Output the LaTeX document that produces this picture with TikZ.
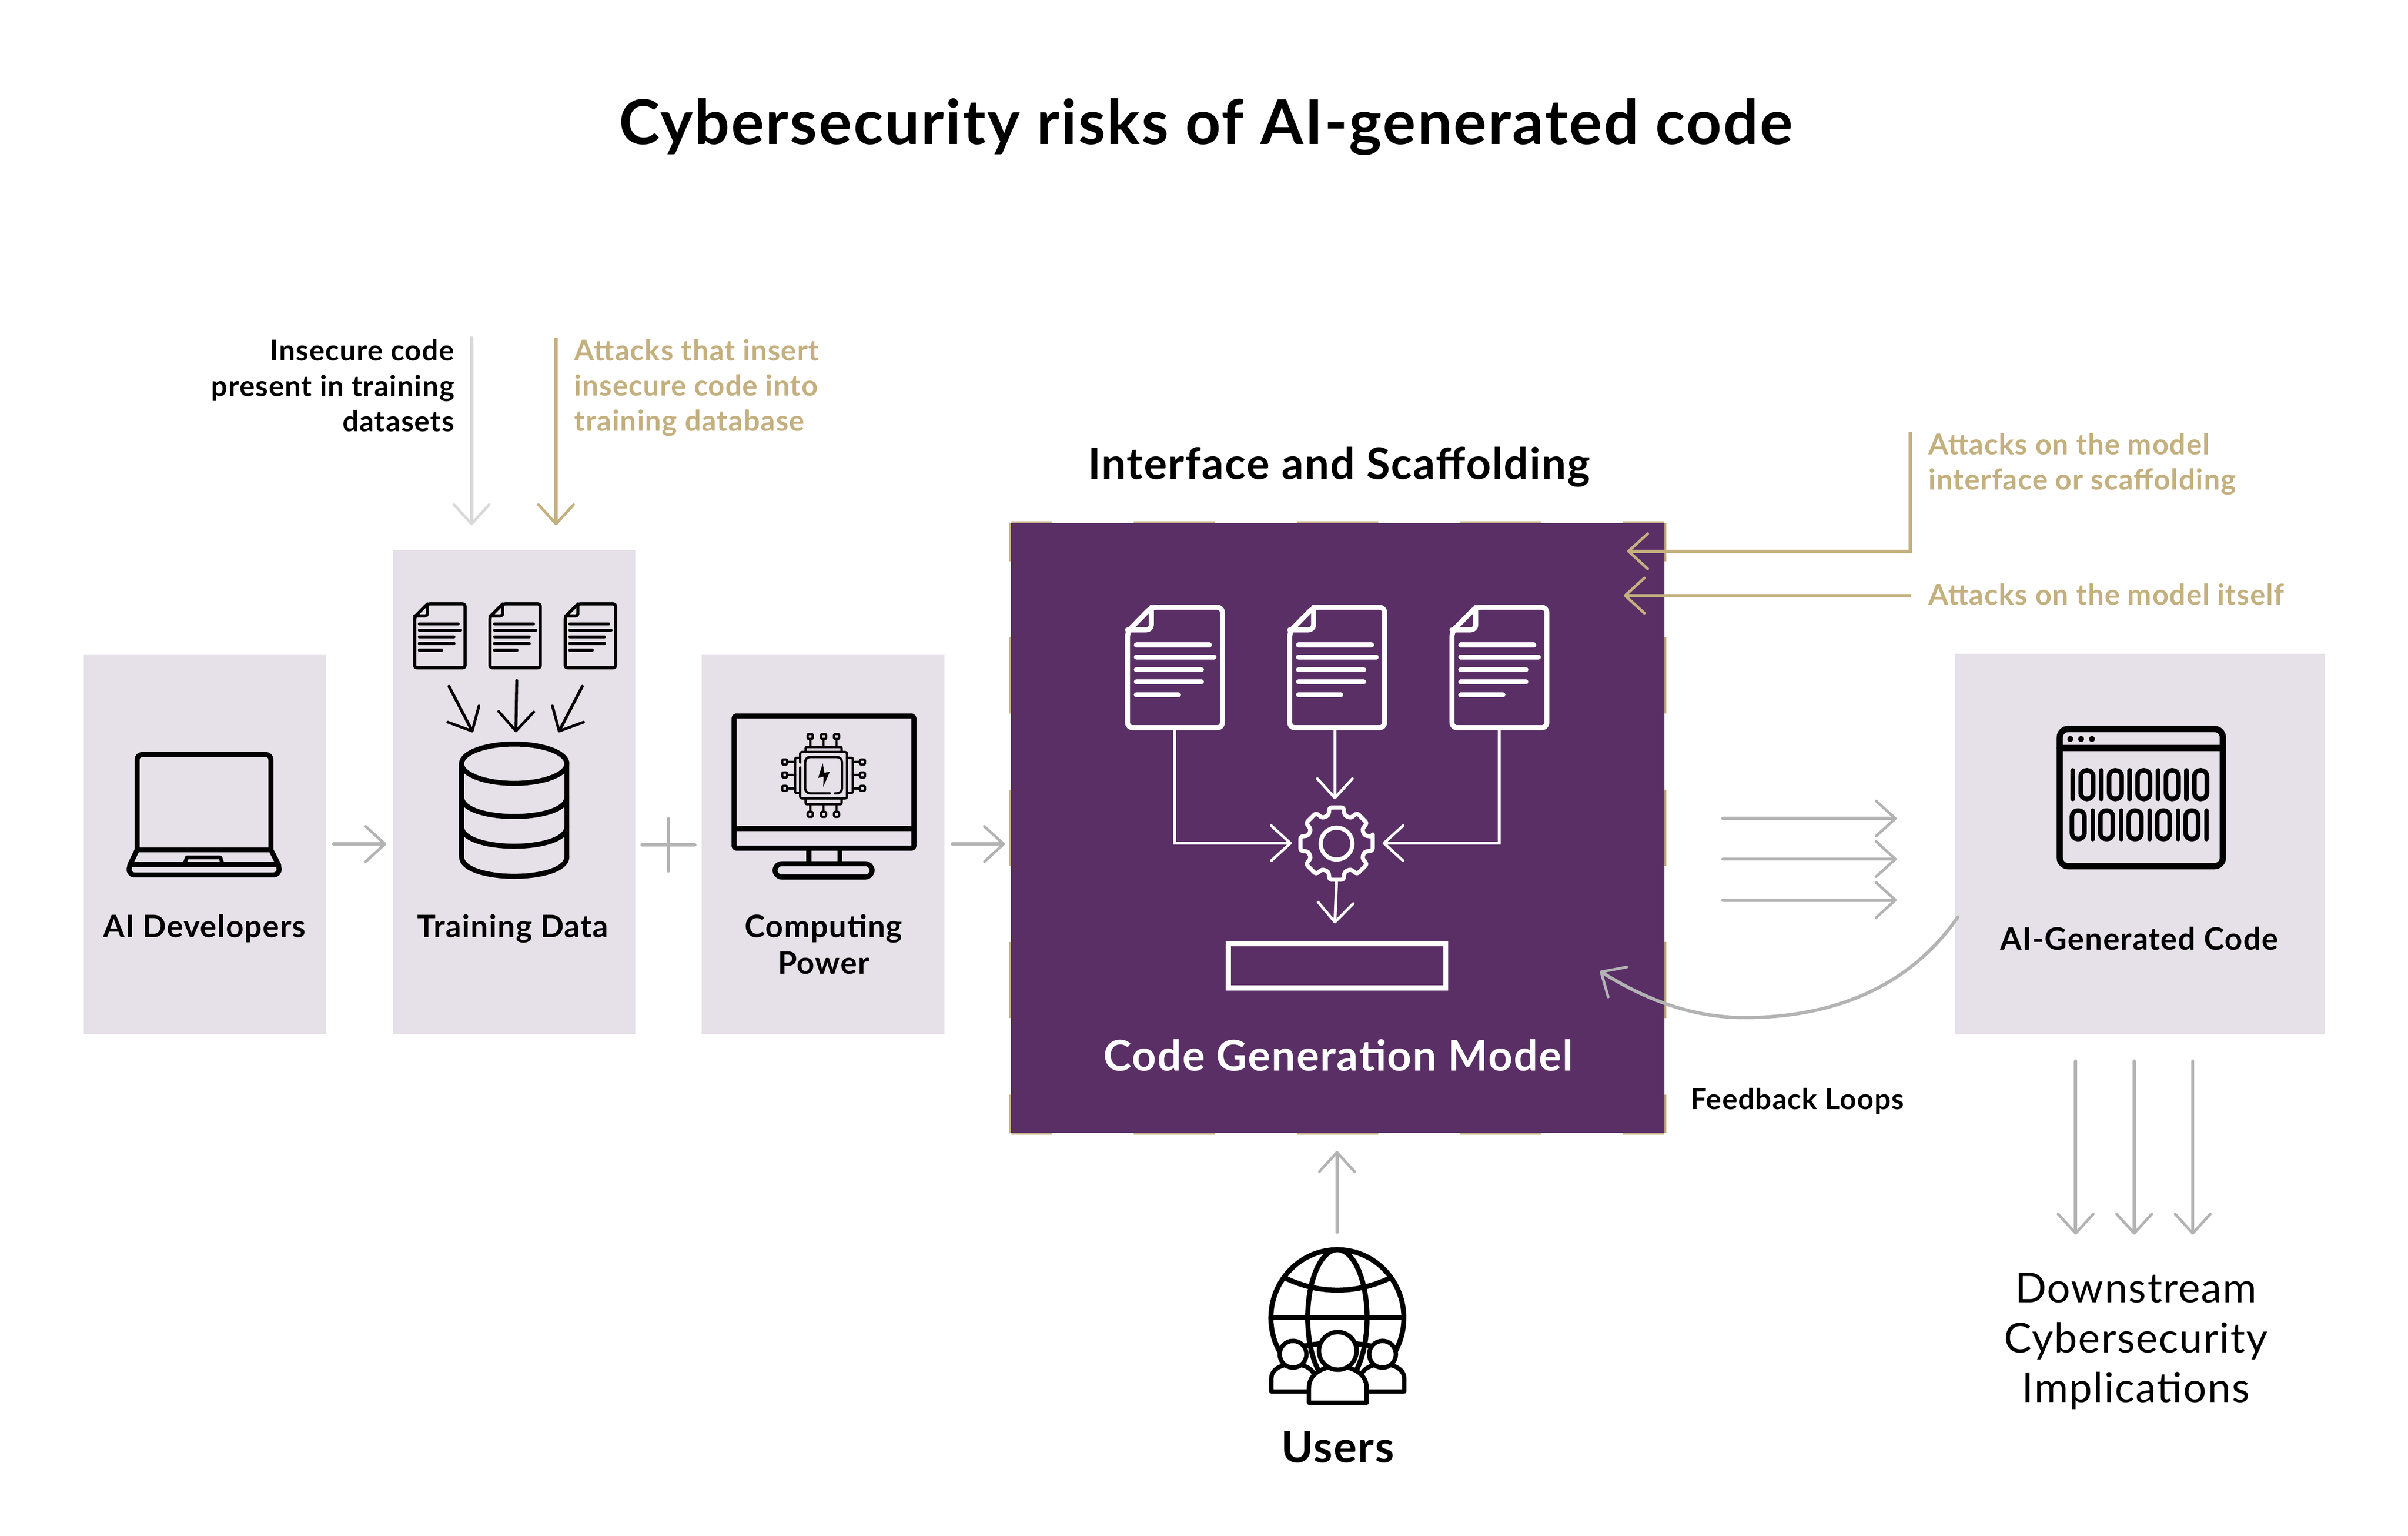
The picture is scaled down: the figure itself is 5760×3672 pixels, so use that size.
\documentclass[tikz,border=0pt]{standalone}
\usepackage{fontspec}
\setmainfont{Lato}[LetterSpace=2.5]
\usetikzlibrary{arrows.meta}
\definecolor{lilac}{HTML}{E6E0E8}
\definecolor{plum}{HTML}{5A2F66}
\definecolor{gold}{HTML}{C4B07F}
\definecolor{gr}{HTML}{B3B3B3}
\definecolor{lgr}{HTML}{D9D9D9}
\tikzset{
  x=0.01cm,y=-0.01cm,
  every node/.style={inner sep=0pt,outer sep=0pt},
  panel/.style={fill=lilac,draw=none,rectangle},
  titlefont/.style={font=\fontsize{42}{48}\bfseries\selectfont},
  headfont/.style={font=\fontsize{29.5}{34}\bfseries\selectfont},
  modelfont/.style={font=\fontsize{28.8}{34}\bfseries\selectfont},
  labelfont/.style={font=\fontsize{21}{24.7}\bfseries\selectfont},
  notefont/.style={font=\fontsize{19.5}{24}\bfseries\selectfont},
  downfont/.style={font=\fontsize{28}{33.9}\selectfont},
  barb/.style={-{Straight Barb[length=0.46cm,width=0.84cm,round,line width=#1]}},
  garrow/.style={draw=gr,line width=0.08cm,line cap=round,barb=0.065cm},
  lgarrow/.style={draw=lgr,line width=0.08cm,line cap=round,barb=0.065cm},
  yarrow/.style={draw=gold,line width=0.08cm,line join=miter,barb=0.065cm},
  warrow/.style={draw=white,line width=0.07cm,line join=miter,barb=0.065cm},
  karrow/.style={draw=black,line width=0.07cm,line cap=round,barb=0.065cm},
  icon/.style={draw=black,line width=0.12cm,line join=round,line cap=round},
  thinicon/.style={draw=black,line width=0.055cm,line join=round,line cap=round},
  person/.style={draw=black,fill=white,line width=0.105cm,line join=round},
}
% doc icon: x, y, scale, line width, colour, corner radius
\newcommand\docicon[6]{%
  \begin{scope}[shift={(#1,#2)},scale=#3,line width=#4,draw=#5,line cap=round,line join=round]
    \draw[rounded corners=#6] (0,58) -- (57,0) -- (227,0) -- (227,288) -- (0,288) -- cycle;
    \draw[rounded corners=#6] (57,0) -- (57,54) -- (0,54);
    \foreach \yy/\ll in {90/175,119/186,149/156,178/156,209/101}
      \draw (21,\yy) -- ++(\ll,0);
  \end{scope}}
\newcommand\chippad[2]{\draw[thinicon,rounded corners=0.03cm] (#1-6,#2-6) rectangle (#1+6,#2+6);}
\begin{document}
\begin{tikzpicture}
\useasboundingbox (0,0) rectangle (5760,3672);
\fill[white] (0,0) rectangle (5760,3672);

% panels
\node[panel,minimum width=5.79cm,minimum height=9.07cm] (devbox) at (490,2018) {};
\node[panel,minimum width=5.79cm,minimum height=11.56cm] (databox) at (1229.5,1894) {};
\node[panel,minimum width=5.80cm,minimum height=9.07cm] (compbox) at (1969,2018) {};
\node[panel,minimum width=8.84cm,minimum height=9.08cm] (codebox) at (5118,2018) {};

% model box with gold dashed frame
\begin{scope}[draw=gold,line width=0.1cm]
  \draw[dash pattern=on 1.95cm off 1.95cm,dash phase=0.975cm] (2419,1251) -- (3981,1251);
  \draw[dash pattern=on 1.95cm off 1.95cm,dash phase=0.975cm] (2419,2708) -- (3981,2708);
  \draw[dash pattern=on 1.82cm off 1.82cm,dash phase=0.91cm] (2419,1251) -- (2419,2708);
  \draw[dash pattern=on 1.82cm off 1.82cm,dash phase=0.91cm] (3981,1251) -- (3981,2708);
\end{scope}
\node[fill=plum,minimum width=15.62cm,minimum height=14.57cm] (modelbox) at (3200,1979.5) {};

% title and labels
\node[titlefont] (title) at (2884,303) {Cybersecurity risks of AI-generated code};
\node[headfont] (iface) at (3203,1116) {Interface and Scaffolding};
\node[modelfont,text=white] (modellabel) at (3201,2523) {Code Generation Model};
\node[labelfont] (devlabel) at (489,2220) {AI Developers};
\node[labelfont] (datalabel) at (1227,2220) {Training Data};
\node[labelfont,align=center] (complabel) at (1970,2258) {Computing\\Power};
\node[labelfont] (codelabel) at (5117,2244) {AI-Generated Code};
\node[headfont] (userslabel) at (3200,3460) {Users};
\node[downfont,align=center] (downlabel) at (5109,3207) {Downstream\\Cybersecurity\\Implications};
\node[notefont] (feedback) at (4299,2633) {Feedback Loops};
\node[notefont,align=right,anchor=east] (insecure) at (1087,922) {Insecure code\\present in training\\datasets};
\node[notefont,align=left,anchor=west,text=gold] (attackdata) at (1374,927) {Attacks that insert\\insecure code into\\training database};
\node[notefont,align=left,anchor=west,text=gold] (attackif) at (4613,1110) {Attacks on the model\\interface or scaffolding};
\node[notefont,anchor=west,text=gold] (attackmodel) at (4613,1421) {Attacks on the model itself};

% connector ends
\coordinate (a1s) at (1128,808); \coordinate (a1e) at (1128,1256);
\coordinate (a2s) at (1330,808); \coordinate (a2e) at (1330,1256);
\coordinate (a3s) at (798,2018); \coordinate (a3e) at (924,2018);
\coordinate (a4s) at (2278,2018); \coordinate (a4e) at (2404,2018);
\coordinate (p1) at (1536,2020); \coordinate (p2) at (1662,2020);
\coordinate (p3) at (1599,1957); \coordinate (p4) at (1599,2083);
\coordinate (b1s) at (4121,1957); \coordinate (b1e) at (4537,1957);
\coordinate (b2s) at (4121,2054); \coordinate (b2e) at (4537,2054);
\coordinate (b3s) at (4121,2152); \coordinate (b3e) at (4537,2152);
\coordinate (c1s) at (4965,2537); \coordinate (c1e) at (4965,2952);
\coordinate (c2s) at (5105,2537); \coordinate (c2e) at (5105,2952);
\coordinate (c3s) at (5245,2537); \coordinate (c3e) at (5245,2952);
\coordinate (u1s) at (3198,2946); \coordinate (u1e) at (3198,2752);
\coordinate (g1s) at (4569,1032); \coordinate (g1m) at (4569,1318); \coordinate (g1e) at (3892,1318);
\coordinate (g2s) at (4571,1424); \coordinate (g2e) at (3884,1424);
\coordinate (fs) at (4683,2193); \coordinate (fm) at (4173,2433); \coordinate (fe) at (3827,2322);

\draw[lgarrow] (a1s) -- (a1e);
\draw[yarrow] (a2s) -- (a2e);
\draw[garrow] (a3s) -- (a3e);
\draw[garrow] (a4s) -- (a4e);
\draw[draw=gr,line width=0.08cm,line cap=round] (p1) -- (p2);
\draw[draw=gr,line width=0.07cm,line cap=round] (p3) -- (p4);
\draw[garrow] (b1s) -- (b1e);
\draw[garrow] (b2s) -- (b2e);
\draw[garrow] (b3s) -- (b3e);
\draw[garrow] (c1s) -- (c1e);
\draw[garrow] (c2s) -- (c2e);
\draw[garrow] (c3s) -- (c3e);
\draw[garrow] (u1s) -- (u1e);
\draw[yarrow] (g1s) -- (g1m) -- (g1e);
\draw[yarrow] (g2s) -- (g2e);
\draw[garrow] (fs) .. controls (4560,2370) and (4370,2433) .. (fm) .. controls (4050,2433) and (3940,2392) .. (fe);

% laptop
\begin{scope}[icon]
  \draw[rounded corners=0.12cm] (328,2032) -- (328,1804) -- (648,1804) -- (648,2032);
  \draw (328,2032) -- (648,2032);
  \draw (328,2032) -- (311,2067) -- (666,2067) -- (648,2032);
  \draw[rounded corners=0.16cm] (311,2067) -- (306,2092) -- (670,2092) -- (666,2067);
  \draw[line width=0.09cm] (441,2067) -- (447,2050) -- (527,2050) -- (533,2067);
\end{scope}

% training data: documents, arrows, database
\docicon{992}{1444}{0.53}{0.075cm}{black}{0.05cm}
\docicon{1172}{1444}{0.53}{0.075cm}{black}{0.05cm}
\docicon{1352}{1444}{0.53}{0.075cm}{black}{0.05cm}
\coordinate (d1s) at (1074,1641); \coordinate (d1e) at (1131,1751);
\coordinate (d2s) at (1236,1627); \coordinate (d2e) at (1234,1751);
\coordinate (d3s) at (1393,1641); \coordinate (d3e) at (1336,1751);
\draw[karrow] (d1s) -- (d1e);
\draw[karrow] (d2s) -- (d2e);
\draw[karrow] (d3s) -- (d3e);
\begin{scope}[icon]
  \draw (1230,1826) ellipse[x radius=126,y radius=47];
  \draw (1104,1826) -- (1104,2048) (1356,1826) -- (1356,2048);
  \foreach \cy in {1905,1976,2048}
    \draw (1104,\cy) .. controls (1104,\cy+63) and (1356,\cy+63) .. (1356,\cy);
\end{scope}

% computing power: monitor and chip
\begin{scope}[icon]
  \draw[rounded corners=0.05cm] (1756,1712) rectangle (2186,2028);
  \draw (1756,1981) -- (2186,1981);
  \draw (1935,2028) -- (1935,2065) (2009,2028) -- (2009,2065);
  \draw[rounded corners=0.16cm] (1854,2065) rectangle (2086,2097);
\end{scope}
\begin{scope}[thinicon]
  \draw[rounded corners=0.04cm] (1914,1823) -- (1914,1798) -- (2026,1798) -- (2026,1909) -- (1914,1909) -- (1914,1835);
  \draw[rounded corners=0.12cm] (1985,1897) -- (1926,1897) -- (1926,1810) -- (2014,1810) -- (2014,1897) -- (1997,1897);
  \draw[rounded corners=0.03cm] (1927,1798) -- (1927,1786) -- (2013,1786) -- (2013,1798);
  \draw[rounded corners=0.03cm] (1927,1909) -- (1927,1923) -- (2013,1923) -- (2013,1909);
  \draw[rounded corners=0.03cm] (1914,1812) -- (1902,1812) -- (1902,1896) -- (1914,1896);
  \draw[rounded corners=0.03cm] (2026,1812) -- (2040,1812) -- (2040,1896) -- (2026,1896);
  \foreach \xx in {1938,1970,2001} {
    \draw (\xx,1769) -- (\xx,1786);
    \draw (\xx,1923) -- (\xx,1939);
  }
  \foreach \yy in {1822,1853,1885} {
    \draw (1885,\yy) -- (1902,\yy);
    \draw (2040,\yy) -- (2055,\yy);
  }
\end{scope}
\foreach \xx in {1938,1970,2001} { \chippad{\xx}{1761} \chippad{\xx}{1947} }
\foreach \yy in {1822,1853,1885} { \chippad{1877}{\yy} \chippad{2063}{\yy} }
\fill[black] (1968,1825) -- (1957,1860) -- (1970,1857) -- (1969,1882) -- (1985,1845) -- (1972,1848) -- cycle;

% model internals
\docicon{2697}{1452}{1}{0.12cm}{white}{0.12cm}
\docicon{3085}{1452}{1}{0.12cm}{white}{0.12cm}
\docicon{3473}{1452}{1}{0.12cm}{white}{0.12cm}
\coordinate (m1s) at (2810,1746); \coordinate (m1m) at (2810,2016); \coordinate (m1e) at (3090,2016);
\coordinate (m2s) at (3193,1746); \coordinate (m2e) at (3193,1911);
\coordinate (m3s) at (3586,1746); \coordinate (m3m) at (3586,2016); \coordinate (m3e) at (3307,2016);
\coordinate (m4s) at (3197,2108); \coordinate (m4e) at (3193,2208);
\draw[warrow] (m1s) -- (m1m) -- (m1e);
\draw[warrow] (m2s) -- (m2e);
\draw[warrow] (m3s) -- (m3m) -- (m3e);
\draw[warrow] (m4s) -- (m4e);
\begin{scope}[shift={(3197,2017)}]
\draw[white,line width=0.1cm,rounded corners=0.05cm,line join=round]
  (-11:88) \foreach \t in {0,45,...,315} {
    -- (\t-11:88) -- (\t+11:88) -- (\t+16:70) -- (\t+29:70)
  } -- cycle;
\draw[white,line width=0.1cm] (0,0) circle[radius=38];
\end{scope}
\draw[white,line width=0.12cm] (2938,2257) rectangle (3458,2362);

% binary window
\begin{scope}[icon,line width=0.15cm]
  \draw[rounded corners=0.2cm] (4927,1743) -- (5317,1743) -- (5317,2071) -- (4927,2071) -- cycle;
  \draw (4927,1789) -- (5317,1789);
\end{scope}
\foreach \xx in {4952,4978,5004} \fill[black] (\xx,1767) circle[radius=7];
\foreach \k in {0,...,4} {
  \pgfmathsetmacro\aa{4958+68*\k}
  \pgfmathsetmacro\bb{4992+68*\k}
  \pgfmathsetmacro\cc{4971+68*\k}
  \pgfmathsetmacro\dd{5006+68*\k}
  \draw[black,line width=0.11cm,line cap=round] (\aa,1842) -- (\aa,1910);
  \draw[black,line width=0.11cm,rounded corners=0.14cm] (\bb-15,1842) rectangle (\bb+15,1910);
  \draw[black,line width=0.11cm,rounded corners=0.14cm] (\cc-15,1938) rectangle (\cc+15,2006);
  \draw[black,line width=0.11cm,line cap=round] (\dd,1938) -- (\dd,2006);
}

% users
\begin{scope}[icon]
  \draw (3199,3151) ellipse[x radius=159,y radius=163];
  \draw (3199,3151) ellipse[x radius=71,y radius=163];
  \draw (3040,3151) -- (3358,3151);
  \draw (3077,3057) .. controls (3155,3094) and (3243,3094) .. (3322,3057);
  \draw (3085,3228) .. controls (3150,3205) and (3250,3205) .. (3315,3228);
\end{scope}
\draw[person] (3041,3327) -- (3041,3296) .. controls (3041,3250) and (3145,3250) .. (3145,3296) -- (3145,3327) -- cycle;
\draw[person] (3255,3327) -- (3255,3296) .. controls (3255,3250) and (3359,3250) .. (3359,3296) -- (3359,3327) -- cycle;
\draw[person] (3093,3238) circle[radius=32];
\draw[person] (3307,3238) circle[radius=32];
\draw[person] (3131,3354) -- (3131,3318) .. controls (3131,3250) and (3269,3250) .. (3269,3318) -- (3269,3354) -- cycle;
\draw[person] (3200,3230) circle[radius=45];
\end{tikzpicture}
\end{document}
